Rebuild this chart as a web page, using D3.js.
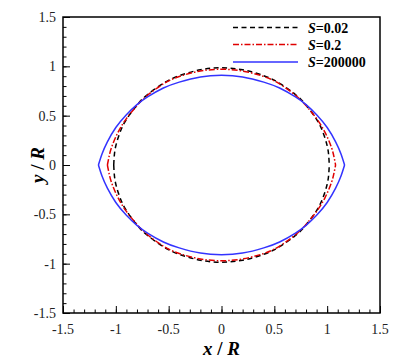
<!DOCTYPE html>
<html>
<head>
<meta charset="utf-8">
<script src="https://cdn.jsdelivr.net/npm/d3@7"></script>
<style>
  body { margin: 0; background: #fff; }
  svg { display: block; }
</style>
</head>
<body>
<svg width="409" height="359" font-family="'Liberation Serif', 'DejaVu Serif', serif"></svg>
<script>
// first-quadrant points, mirrored to close each shape
const s002 = [[0,0.985],[0.2,0.965],[0.4,0.905],[0.55,0.828],[0.7,0.714],[0.8,0.608],[0.9,0.462],[0.96,0.332],[1.0,0.195],[1.015,0.09],[1.02,0]];
const s02 = [[0,0.97],[0.2,0.952],[0.4,0.897],[0.55,0.822],[0.7,0.707],[0.8,0.602],[0.9,0.47],[0.98,0.33],[1.04,0.18],[1.065,0.08],[1.08,0]];
const s2e5 = [[0,0.91],[0.2,0.893],[0.4,0.84],[0.55,0.78],[0.7,0.69],[0.8,0.612],[0.9,0.51],[1.0,0.38],[1.08,0.235],[1.13,0.115],[1.165,0]];

const seriesNames = ['0.02', '0.2', '200000'];
const seriesData = [s002, s02, s2e5];
const seriesColor = ['#000000', '#e00000', '#3333ff'];
const seriesDash = ['5,3.5', '6,2,1.5,2', null];

const xTicks = [-1.5, -1, -0.5, 0, 0.5, 1, 1.5];
const yTicks = [-1.5, -1, -0.5, 0, 0.5, 1, 1.5];
const minorTicks = d3.range(-15, 16).map(d => d / 10);

const svg = d3.select('svg');
const mLeft = 63, mRight = 380, mTop = 17, mBottom = 313;

const x = d3.scaleLinear().domain([-1.5, 1.5]).range([mLeft, mRight]);
const y = d3.scaleLinear().domain([-1.5, 1.5]).range([mBottom, mTop]);

const fmt = d => d === 0 ? '0' : String(d);

// curves: upper and lower halves drawn separately so the tips stay sharp
const line = d3.line().x(d => x(d[0])).y(d => y(d[1])).curve(d3.curveNatural);

seriesData.forEach((q, i) => {
  const upper = q.slice().reverse().map(p => [-p[0], p[1]]).concat(q.slice(1));
  const lower = upper.map(p => [p[0], -p[1]]);
  [upper, lower].forEach(h => {
    svg.append('path')
      .attr('d', line(h))
      .attr('fill', 'none')
      .attr('stroke', seriesColor[i])
      .attr('stroke-width', 1.5)
      .attr('stroke-dasharray', seriesDash[i]);
  });
});

// axes with inward ticks
const xAxis = svg.append('g').attr('transform', `translate(0,${mBottom})`)
  .call(d3.axisTop(x).tickValues(xTicks).tickSize(7).tickFormat(''));
const xMinor = svg.append('g').attr('transform', `translate(0,${mBottom})`)
  .call(d3.axisTop(x).tickValues(minorTicks).tickSize(3.5).tickFormat(''));
const yAxis = svg.append('g').attr('transform', `translate(${mLeft},0)`)
  .call(d3.axisRight(y).tickValues(yTicks).tickSize(7).tickFormat(''));
const yMinor = svg.append('g').attr('transform', `translate(${mLeft},0)`)
  .call(d3.axisRight(y).tickValues(minorTicks).tickSize(3.5).tickFormat(''));
[xAxis, xMinor, yAxis, yMinor].forEach(g => {
  g.select('.domain').remove();
  g.selectAll('line').attr('stroke', '#000').attr('stroke-width', 1);
});

svg.append('rect')
  .attr('x', mLeft).attr('y', mTop)
  .attr('width', mRight - mLeft).attr('height', mBottom - mTop)
  .attr('fill', 'none').attr('stroke', '#000').attr('stroke-width', 1.5);

// tick labels
svg.selectAll('.xl').data(xTicks).join('text')
  .attr('x', d => x(d)).attr('y', 334)
  .attr('text-anchor', 'middle').attr('font-size', 14).attr('fill', '#222')
  .text(fmt);
svg.selectAll('.yl').data(yTicks).join('text')
  .attr('x', 56).attr('y', d => y(d) + 5)
  .attr('text-anchor', 'end').attr('font-size', 14).attr('fill', '#222')
  .text(fmt);

// axis titles
const xt = svg.append('text').attr('x', x(0)).attr('y', 355)
  .attr('text-anchor', 'middle').attr('font-size', 19).attr('font-weight', 'bold');
xt.append('tspan').attr('font-style', 'italic').text('x');
xt.append('tspan').text(' / ');
xt.append('tspan').attr('font-style', 'italic').text('R');

const yt = svg.append('text').attr('transform', `translate(44,${y(0)}) rotate(-90)`)
  .attr('text-anchor', 'middle').attr('font-size', 19).attr('font-weight', 'bold');
yt.append('tspan').attr('font-style', 'italic').text('y');
yt.append('tspan').text(' / ');
yt.append('tspan').attr('font-style', 'italic').text('R');

// legend
const legendY = [27.5, 44.5, 62];
seriesNames.forEach((n, i) => {
  svg.append('line')
    .attr('x1', 233).attr('x2', 298)
    .attr('y1', legendY[i]).attr('y2', legendY[i])
    .attr('stroke', seriesColor[i]).attr('stroke-width', 1.5)
    .attr('stroke-dasharray', seriesDash[i]);
  const t = svg.append('text').attr('x', 308).attr('y', legendY[i] + 5)
    .attr('font-size', 14).attr('font-weight', 'bold');
  t.append('tspan').attr('font-style', 'italic').text('S');
  t.append('tspan').text('=' + n);
});
</script>
</body>
</html>
